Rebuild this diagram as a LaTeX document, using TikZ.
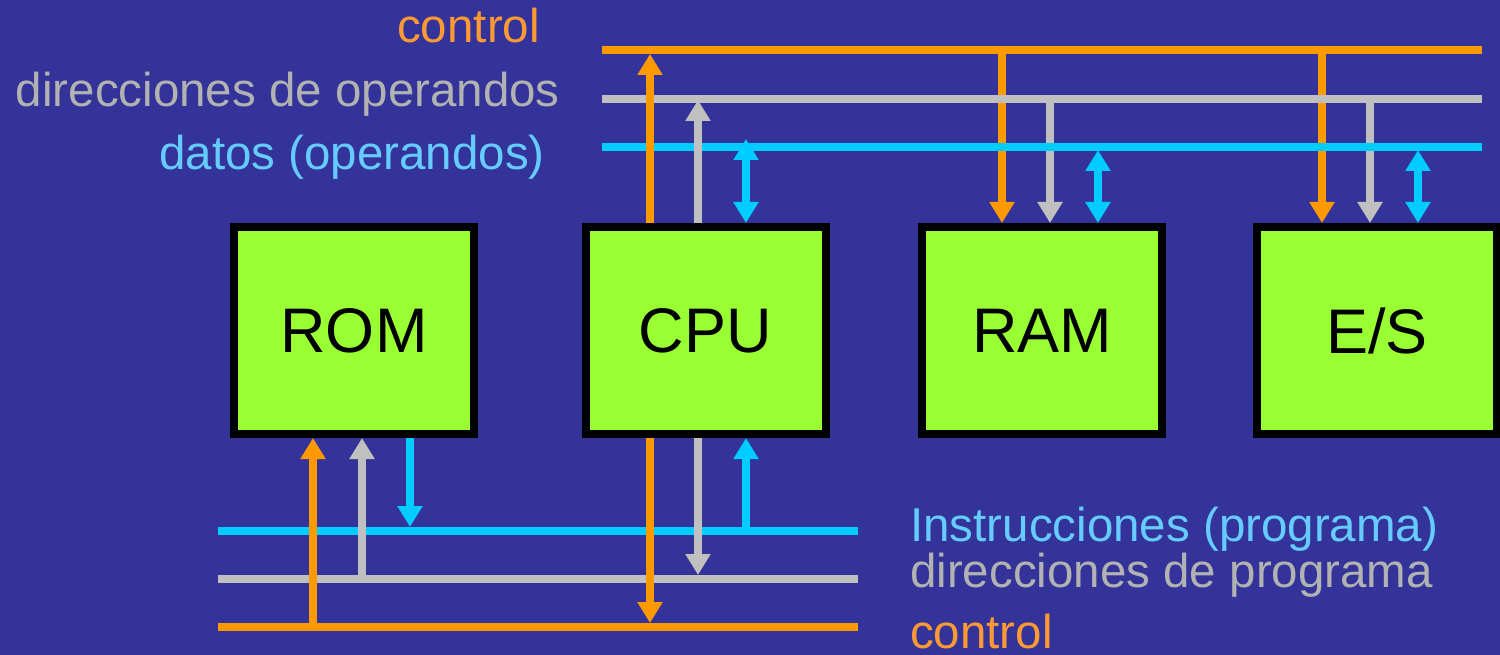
\documentclass[tikz,border=0pt]{standalone}
\usepackage{fontspec}
\setmainfont{Liberation Sans}
\usetikzlibrary{arrows.meta}
\definecolor{bgblue}{HTML}{333399}
\definecolor{busorange}{HTML}{FF9900}
\definecolor{busgrey}{HTML}{C0C0C0}
\definecolor{buscyan}{HTML}{00CCFF}
\definecolor{boxgreen}{HTML}{99FF33}
\definecolor{txtorange}{HTML}{FF9933}
\definecolor{txtgrey}{HTML}{B2B2B2}
\definecolor{txtblue}{HTML}{66CCFF}
\begin{document}
\begin{tikzpicture}[x=1pt,y=-1pt,
  bus/.style={line width=8pt},
  oneway/.style={line width=8pt,-{Triangle[width=24pt,length=21pt]}},
  twoway/.style={line width=8pt,{Triangle[width=24pt,length=21pt]}-{Triangle[width=24pt,length=21pt]}},
  unit/.style={draw=black,line width=8pt,fill=boxgreen,minimum width=240pt,minimum height=207pt,inner sep=0pt,font=\fontsize{63}{70}\selectfont},
  lbl/.style={inner sep=0pt,font=\fontsize{47.5}{56}\selectfont}]
\useasboundingbox (0,0) rectangle (1500,655);
\fill[bgblue] (0,0) rectangle (1500,655);

% units
\node[unit] (rom) at (354,330.5) {ROM};
\node[unit] (cpu) at (705.5,330.5) {CPU};
\node[unit] (ram) at (1042,330.5) {RAM};
\node[unit] (es) at (1377,330.5) {E/S};

% bus end points
\coordinate (tcL) at (602,50);  \coordinate (tcR) at (1482,50);
\coordinate (tgL) at (602,99);  \coordinate (tgR) at (1482,99);
\coordinate (tdL) at (602,147); \coordinate (tdR) at (1482,147);
\coordinate (biL) at (218,531); \coordinate (biR) at (858,531);
\coordinate (bgL) at (218,579); \coordinate (bgR) at (858,579);
\coordinate (bcL) at (218,627); \coordinate (bcR) at (858,627);

% tap points
\coordinate (ramC) at (1002,50);  \coordinate (ramG) at (1050,99);  \coordinate (ramD) at (1098,150);
\coordinate (esC) at (1322,50);   \coordinate (esG) at (1370,99);   \coordinate (esD) at (1418,150);
\coordinate (cpuC) at (650,54);   \coordinate (cpuG) at (698,100);  \coordinate (cpuD) at (746,139);
\coordinate (romC) at (313,627);  \coordinate (romG) at (362,579);  \coordinate (romI) at (410,527);
\coordinate (cpuBC) at (650,623); \coordinate (cpuBG) at (698,575); \coordinate (cpuBI) at (746,531);

% RAM and E/S taps (below the top buses)
\draw[oneway,busorange] (ramC) -- (ramC |- ram.north);
\draw[oneway,busgrey] (ramG) -- (ramG |- ram.north);
\draw[twoway,buscyan] (ramD) -- (ramD |- ram.north);
\draw[oneway,busorange] (esC) -- (esC |- es.north);
\draw[oneway,busgrey] (esG) -- (esG |- es.north);
\draw[twoway,buscyan] (esD) -- (esD |- es.north);

% top buses
\draw[bus,busorange] (tcL) -- (tcR);
\draw[bus,busgrey] (tgL) -- (tgR);
\draw[bus,buscyan] (tdL) -- (tdR);

% CPU top taps
\draw[oneway,busorange] (cpuC |- cpu.north) -- (cpuC);
\draw[oneway,busgrey] (cpuG |- cpu.north) -- (cpuG);
\draw[twoway,buscyan] (cpuD) -- (cpuD |- cpu.north);

% bottom buses
\draw[bus,buscyan] (biL) -- (biR);
\draw[bus,busgrey] (bgL) -- (bgR);
\draw[bus,busorange] (bcL) -- (bcR);

% bottom taps
\draw[oneway,busorange] (romC) -- (romC |- rom.south);
\draw[oneway,busgrey] (romG) -- (romG |- rom.south);
\draw[oneway,buscyan] (romI |- rom.south) -- (romI);
\draw[oneway,busorange] (cpuBC |- cpu.south) -- (cpuBC);
\draw[oneway,busgrey] (cpuBG |- cpu.south) -- (cpuBG);
\draw[oneway,buscyan] (cpuBI) -- (cpuBI |- cpu.south);

% labels
\node[lbl,anchor=base east,text=txtorange] (l1) at (540,43) {control};
\node[lbl,anchor=base east,text=txtgrey] (l2) at (560,107) {direcciones de operandos};
\node[lbl,anchor=base east,text=txtblue] (l3) at (545,170) {datos (operandos)};
\node[lbl,anchor=base west,text=txtblue] (l4) at (910,541) {Instrucciones (programa)};
\node[lbl,anchor=base west,text=txtgrey] (l5) at (910,587) {direcciones de programa};
\node[lbl,anchor=base west,text=txtorange] (l6) at (910,648) {control};
\end{tikzpicture}
\end{document}
